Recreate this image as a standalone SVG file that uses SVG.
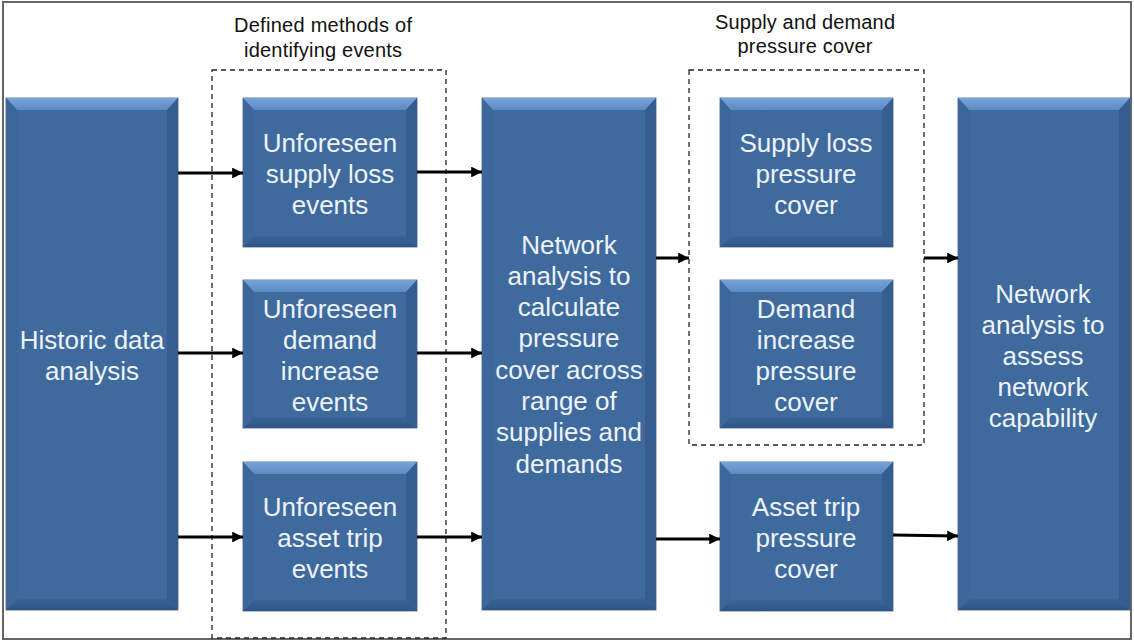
<svg xmlns="http://www.w3.org/2000/svg" width="1134" height="641" viewBox="0 0 1134 641">
<style>
.base{fill:#3F6A9E;stroke:#3A5F8C;stroke-width:0.8}
.bt{fill:url(#gTop)}
.bb{fill:url(#gBot)}
.bl{fill:#3D679B}
.br{fill:#355D90}
.tx{font-family:"Liberation Sans",Arial,sans-serif;font-size:26px;fill:#EEF3FA;text-anchor:middle}
.lb{font-family:"Liberation Sans",Arial,sans-serif;font-size:20px;fill:#111;text-anchor:middle}
.dash{fill:none;stroke:#222;stroke-width:1.3;stroke-dasharray:5 4}
.arr{fill:none;stroke:#000;stroke-width:3;marker-end:url(#ah)}
</style>
<defs>
<linearGradient id="gTop" x1="0" y1="0" x2="0" y2="1">
<stop offset="0" stop-color="#77A3D8"/>
<stop offset="1" stop-color="#5C8BC4"/>
</linearGradient>
<linearGradient id="gBot" x1="0" y1="0" x2="0" y2="1">
<stop offset="0" stop-color="#3A6396"/>
<stop offset="1" stop-color="#2F5585"/>
</linearGradient>
<marker id="ah" viewBox="0 0 10 10" refX="10" refY="5" markerWidth="4.2" markerHeight="3.6" orient="auto" markerUnits="strokeWidth">
<path d="M0,0 L10,5 L0,10 Z" fill="#000"/>
</marker>
</defs>
<rect x="0" y="0" width="1134" height="641" fill="#fff"/>
<rect x="3" y="2" width="1128" height="637" fill="none" stroke="#666" stroke-width="2"/>

<g id="labels">
<text class="lb" x="323" y="32" textLength="178" lengthAdjust="spacing">Defined methods of</text>
<text class="lb" x="323" y="57" textLength="158" lengthAdjust="spacing">identifying events</text>
<text class="lb" x="805" y="29" textLength="180" lengthAdjust="spacing">Supply and demand</text>
<text class="lb" x="805" y="53" textLength="135" lengthAdjust="spacing">pressure cover</text>
</g>

<g id="groups">
<rect class="dash" x="212" y="70" width="234" height="568"/>
<rect class="dash" x="689" y="70" width="235" height="375"/>
</g>

<g id="historic">
<rect class="base" x="6" y="98" width="172" height="512"/>
<polygon class="bt" points="6,98 178,98 167,110 17,110"/>
<polygon class="bb" points="6,610 178,610 167,599 17,599"/>
<polygon class="bl" points="6,98 17,110 17,599 6,610"/>
<polygon class="br" points="178,98 167,110 167,599 178,610"/>
<text class="tx" x="92" y="349">Historic data</text>
<text class="tx" x="92" y="380">analysis</text>
</g>

<g id="u_supply">
<rect class="base" x="243" y="98" width="174" height="149"/>
<polygon class="bt" points="243,98 417,98 406,110 254,110"/>
<polygon class="bb" points="243,247 417,247 406,236 254,236"/>
<polygon class="bl" points="243,98 254,110 254,236 243,247"/>
<polygon class="br" points="417,98 406,110 406,236 417,247"/>
<text class="tx" x="330" y="152">Unforeseen</text>
<text class="tx" x="330" y="183">supply loss</text>
<text class="tx" x="330" y="214">events</text>
</g>

<g id="u_demand">
<rect class="base" x="243" y="280" width="174" height="148"/>
<polygon class="bt" points="243,280 417,280 406,292 254,292"/>
<polygon class="bb" points="243,428 417,428 406,417 254,417"/>
<polygon class="bl" points="243,280 254,292 254,417 243,428"/>
<polygon class="br" points="417,280 406,292 406,417 417,428"/>
<text class="tx" x="330" y="318">Unforeseen</text>
<text class="tx" x="330" y="349">demand</text>
<text class="tx" x="330" y="380">increase</text>
<text class="tx" x="330" y="411">events</text>
</g>

<g id="u_asset">
<rect class="base" x="243" y="462" width="174" height="149"/>
<polygon class="bt" points="243,462 417,462 406,474 254,474"/>
<polygon class="bb" points="243,611 417,611 406,600 254,600"/>
<polygon class="bl" points="243,462 254,474 254,600 243,611"/>
<polygon class="br" points="417,462 406,474 406,600 417,611"/>
<text class="tx" x="330" y="516">Unforeseen</text>
<text class="tx" x="330" y="547">asset trip</text>
<text class="tx" x="330" y="578">events</text>
</g>

<g id="net_calc">
<rect class="base" x="482" y="98" width="174" height="512"/>
<polygon class="bt" points="482,98 656,98 645,110 493,110"/>
<polygon class="bb" points="482,610 656,610 645,599 493,599"/>
<polygon class="bl" points="482,98 493,110 493,599 482,610"/>
<polygon class="br" points="656,98 645,110 645,599 656,610"/>
<text class="tx" x="569" y="254">Network</text>
<text class="tx" x="569" y="285">analysis to</text>
<text class="tx" x="569" y="316">calculate</text>
<text class="tx" x="569" y="347">pressure</text>
<text class="tx" x="569" y="379">cover across</text>
<text class="tx" x="569" y="410">range of</text>
<text class="tx" x="569" y="441">supplies and</text>
<text class="tx" x="569" y="473">demands</text>
</g>

<g id="p_supply">
<rect class="base" x="720" y="98" width="173" height="149"/>
<polygon class="bt" points="720,98 893,98 882,110 731,110"/>
<polygon class="bb" points="720,247 893,247 882,236 731,236"/>
<polygon class="bl" points="720,98 731,110 731,236 720,247"/>
<polygon class="br" points="893,98 882,110 882,236 893,247"/>
<text class="tx" x="806" y="152">Supply loss</text>
<text class="tx" x="806" y="183">pressure</text>
<text class="tx" x="806" y="214">cover</text>
</g>

<g id="p_demand">
<rect class="base" x="720" y="280" width="173" height="148"/>
<polygon class="bt" points="720,280 893,280 882,292 731,292"/>
<polygon class="bb" points="720,428 893,428 882,417 731,417"/>
<polygon class="bl" points="720,280 731,292 731,417 720,428"/>
<polygon class="br" points="893,280 882,292 882,417 893,428"/>
<text class="tx" x="806" y="318">Demand</text>
<text class="tx" x="806" y="349">increase</text>
<text class="tx" x="806" y="380">pressure</text>
<text class="tx" x="806" y="411">cover</text>
</g>

<g id="p_asset">
<rect class="base" x="720" y="462" width="173" height="149"/>
<polygon class="bt" points="720,462 893,462 882,474 731,474"/>
<polygon class="bb" points="720,611 893,611 882,600 731,600"/>
<polygon class="bl" points="720,462 731,474 731,600 720,611"/>
<polygon class="br" points="893,462 882,474 882,600 893,611"/>
<text class="tx" x="806" y="516">Asset trip</text>
<text class="tx" x="806" y="547">pressure</text>
<text class="tx" x="806" y="578">cover</text>
</g>

<g id="net_assess">
<rect class="base" x="958" y="98" width="172" height="512"/>
<polygon class="bt" points="958,98 1130,98 1119,110 969,110"/>
<polygon class="bb" points="958,610 1130,610 1119,599 969,599"/>
<polygon class="bl" points="958,98 969,110 969,599 958,610"/>
<polygon class="br" points="1130,98 1119,110 1119,599 1130,610"/>
<text class="tx" x="1043" y="303">Network</text>
<text class="tx" x="1043" y="334">analysis to</text>
<text class="tx" x="1043" y="365">assess</text>
<text class="tx" x="1043" y="396">network</text>
<text class="tx" x="1043" y="427">capability</text>
</g>

<g id="connectors">
<line class="arr" x1="178" y1="173" x2="243" y2="173"/>
<line class="arr" x1="178" y1="353" x2="243" y2="353"/>
<line class="arr" x1="178" y1="537" x2="243" y2="537"/>
<line class="arr" x1="417" y1="172" x2="482" y2="172"/>
<line class="arr" x1="417" y1="353" x2="482" y2="353"/>
<line class="arr" x1="417" y1="537" x2="482" y2="537"/>
<line class="arr" x1="656" y1="258" x2="689" y2="258"/>
<line class="arr" x1="656" y1="539" x2="720" y2="539"/>
<line class="arr" x1="924" y1="258" x2="958" y2="258"/>
<line class="arr" x1="893" y1="535" x2="958" y2="536"/>
</g>
</svg>
